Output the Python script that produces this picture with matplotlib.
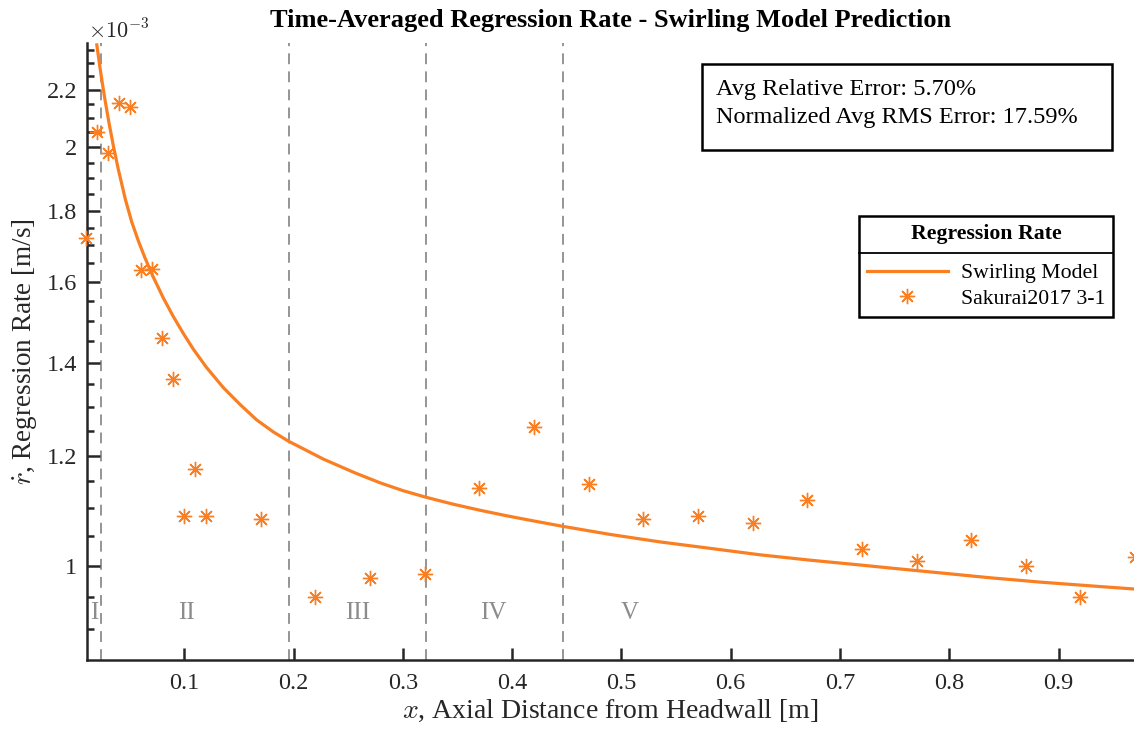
import numpy as np
import matplotlib
matplotlib.use('Agg')
import matplotlib.pyplot as plt
from matplotlib.ticker import FixedLocator, NullFormatter, FixedFormatter
from matplotlib.patches import Rectangle
from matplotlib.lines import Line2D

plt.rcParams['font.family'] = ['Liberation Serif', 'DejaVu Serif']
plt.rcParams['mathtext.fontset'] = 'cm'

# model curve (regression rate x 1e-3 m/s)
x_model = [0.0199, 0.0229, 0.0250, 0.0276, 0.0311, 0.0351, 0.0396, 0.0461, 0.0519,
           0.0579, 0.0640, 0.0716, 0.0808, 0.0899, 0.0991, 0.1083, 0.1205, 0.1357,
           0.1510, 0.1662, 0.1814, 0.1952, 0.2120, 0.2272, 0.2562, 0.2791,
           0.3004, 0.3209, 0.3461, 0.3706, 0.3950, 0.4163, 0.4468, 0.4895, 0.5352,
           0.5810, 0.6267, 0.6725, 0.7182, 0.7457, 0.7914, 0.8372, 0.8829, 0.9287,
           0.9683]
r_model = [2.370, 2.280, 2.223, 2.159, 2.082, 2.004, 1.928, 1.834, 1.767,
           1.713, 1.665, 1.613, 1.558, 1.511, 1.469, 1.431, 1.388, 1.343,
           1.306, 1.273, 1.248, 1.229, 1.210, 1.193, 1.166, 1.147,
           1.132, 1.120, 1.107, 1.096, 1.086, 1.078, 1.067, 1.053, 1.040,
           1.029, 1.018, 1.009, 1.001, 0.996, 0.988, 0.980, 0.973, 0.967,
           0.962]

# Sakurai2017 3-1 experimental data
x_exp = [0.01, 0.02, 0.03, 0.04, 0.05, 0.06, 0.07, 0.08, 0.09, 0.10, 0.11, 0.12,
         0.17, 0.22, 0.27, 0.32, 0.37, 0.42, 0.47, 0.52, 0.57, 0.62, 0.67, 0.72,
         0.77, 0.82, 0.87, 0.92, 0.97]
r_exp = [1.721, 2.053, 1.981, 2.151, 2.137, 1.633, 1.635, 1.459, 1.362, 1.086, 1.174, 1.086,
         1.080, 0.950, 0.979, 0.986, 1.137, 1.259, 1.145, 1.080, 1.086, 1.073, 1.115, 1.028,
         1.007, 1.044, 1.000, 0.950, 1.015]

# region boundaries and labels
bounds = [0.0235, 0.1955, 0.3209, 0.4462]
region_names = ['I', 'II', 'III', 'IV', 'V']
region_x = [0.0174, 0.1017, 0.2583, 0.3827, 0.5078]

avg_rel_err = 5.70
norm_rms_err = 17.59

orange = '#FA7F22'
axcol = '#262626'

fig = plt.figure(figsize=(11.34, 7.31), dpi=100)
ax = fig.add_axes([0.0765, 0.097, 0.9235, 0.844])

ax.plot(x_model, r_model, color=orange, lw=2.3, label='Swirling Model', zorder=3,
        solid_joinstyle='round')
ax.plot(x_exp, r_exp, ls='none', marker=(8, 2, 0), ms=11, mew=1.0, color=orange,
        label='Sakurai2017 3-1', zorder=4, clip_on=False)

for b in bounds:
    ax.axvline(b, color='#8c8c8c', ls=(0, (6, 4)), lw=1.3, zorder=1)
for nm, xr in zip(region_names, region_x):
    ax.text(xr, 0.925, nm, color='#8c8c8c', fontsize=18, ha='center', va='center')

ax.set_yscale('log')
ax.set_xlim(0.0107, 0.969)
ax.set_ylim(0.855, 2.377)

yt = [1.0, 1.2, 1.4, 1.6, 1.8, 2.0, 2.2]
ax.yaxis.set_major_locator(FixedLocator(yt))
ax.yaxis.set_major_formatter(FixedFormatter(['1', '1.2', '1.4', '1.6', '1.8', '2', '2.2']))
minors = [round(v, 2) for v in np.arange(0.9, 2.36, 0.05)]
ax.yaxis.set_minor_locator(FixedLocator([m for m in minors if m not in yt]))
ax.yaxis.set_minor_formatter(NullFormatter())
ax.set_xticks([0.1, 0.2, 0.3, 0.4, 0.5, 0.6, 0.7, 0.8, 0.9])
ax.set_xticklabels(['0.1', '0.2', '0.3', '0.4', '0.5', '0.6', '0.7', '0.8', '0.9'])
ax.xaxis.set_minor_locator(FixedLocator([]))

for s in ['top', 'right']:
    ax.spines[s].set_visible(False)
for s in ['left', 'bottom']:
    ax.spines[s].set_linewidth(1.8)
    ax.spines[s].set_color(axcol)
ax.tick_params(which='major', direction='in', length=9, width=1.8, color=axcol,
               labelsize=17.5, labelcolor=axcol)
ax.tick_params(axis='x', which='major', pad=9)
ax.tick_params(axis='y', which='major', pad=7)
ax.tick_params(which='minor', direction='in', length=5, width=1.8, color=axcol)

ax.set_xlabel(r'$x$, Axial Distance from Headwall [m]', fontsize=20, color=axcol, labelpad=3)
ax.set_ylabel(r'$\dot{r}$, Regression Rate [m/s]', fontsize=19.5, color=axcol, labelpad=5)
fig.text(0.0775, 0.957, r'$\times 10^{-3}$', fontsize=16, color=axcol, ha='left', va='center')

fig.text(0.538, 0.972, 'Time-Averaged Regression Rate - Swirling Model Prediction',
         fontsize=19, fontweight='bold', ha='center', va='center')

# error annotation box
fig.patches.append(Rectangle((702 / 1134, 1 - 150 / 731), 410 / 1134, 86 / 731,
                             transform=fig.transFigure, fill=False, ec='black', lw=1.8))
fig.text(716 / 1134, 1 - 89 / 731, f'Avg Relative Error: {avg_rel_err:.2f}%',
         fontsize=17.5, va='center', ha='left')
fig.text(716 / 1134, 1 - 118 / 731, f'Normalized Avg RMS Error: {norm_rms_err:.2f}%',
         fontsize=17.5, va='center', ha='left')

leg = ax.legend(loc='upper right', bbox_to_anchor=(1113 / 1134, 1 - 216 / 731),
                bbox_transform=fig.transFigure, borderaxespad=0, title='Regression Rate',
                title_fontproperties={'weight': 'bold', 'size': 15.7}, fontsize=15.7,
                frameon=True, fancybox=False, edgecolor='black', framealpha=1,
                handlelength=3.7, borderpad=0.35, labelspacing=0.25, handletextpad=0.6)
leg.get_frame().set_linewidth(1.8)
leg._legend_box.sep = 14

fig.canvas.draw()
renderer = fig.canvas.get_renderer()
lb = leg.get_window_extent(renderer)
tb = leg.get_title().get_window_extent(renderer)
hb = leg._legend_handle_box.get_window_extent(renderer)
ysep = (tb.y0 + hb.y1) / 2
fig.lines.append(Line2D([lb.x0, lb.x1], [ysep, ysep], color='black', lw=1.3,
                        transform=None))

fig.savefig('out.png', dpi=100)
